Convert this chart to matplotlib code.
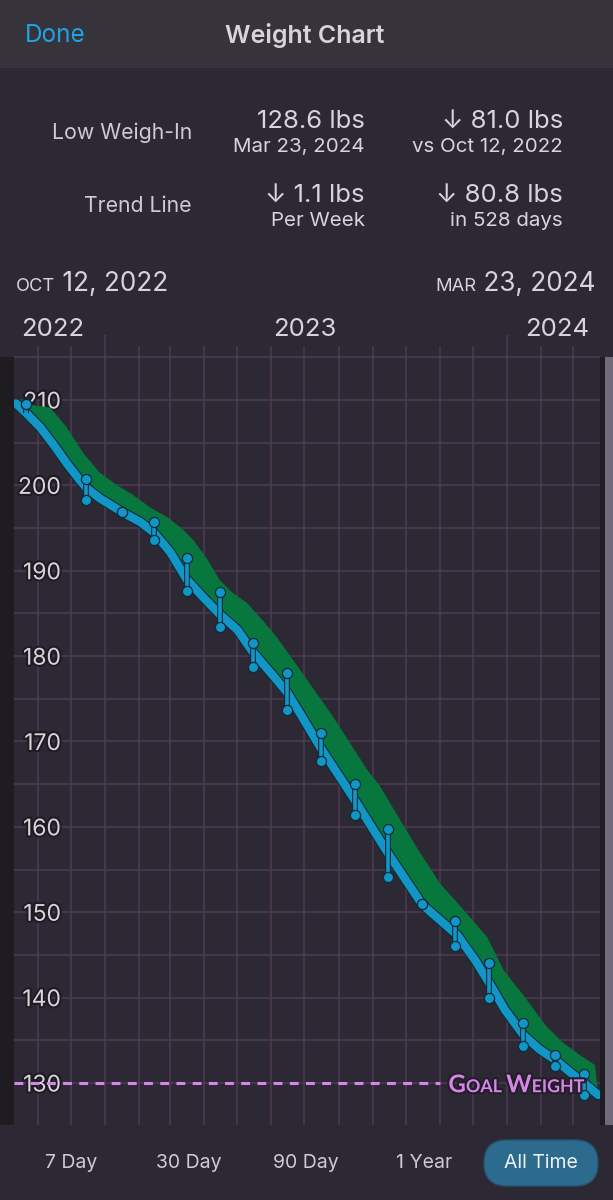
import numpy as np
import matplotlib
matplotlib.use("Agg")
import matplotlib.pyplot as plt
import matplotlib.dates as mdates
import matplotlib.patheffects as pe
from matplotlib.ticker import MultipleLocator, NullFormatter
from matplotlib.offsetbox import TextArea, HPacker, AnnotationBbox
from matplotlib.patches import Rectangle, FancyBboxPatch

plt.rcParams['font.family'] = ['Inter', 'DejaVu Sans']

# ---------------- data ----------------
START = np.datetime64('2022-10-12')

# trend line (days since start, lbs)
trend_days = [0, 9, 22, 35, 46, 58, 64, 76, 96, 113, 125, 140, 155, 170, 185, 201,
              215, 231, 246, 258, 276, 306, 338, 369, 385, 401, 417, 430, 444, 461,
              476, 490, 503, 516, 529]
trend_lbs = [209.6, 208.5, 206.8, 204.6, 202.6, 200.6, 199.7, 198.5, 196.9, 195.7,
             194.5, 192.2, 189.0, 186.9, 184.9, 183.1, 180.5, 178.1, 175.8, 173.3,
             169.4, 163.5, 156.9, 150.9, 149.1, 147.3, 144.4, 141.7, 138.6, 135.6,
             133.9, 132.7, 131.3, 130.0, 128.6]

# upper edge of the green band
band_days = [11, 31, 37, 46, 61, 76, 92, 106, 122, 137, 152, 161, 174, 185, 197, 210,
             224, 237, 258, 288, 319, 331, 349, 364, 385, 401, 428, 443, 462, 482,
             497, 512, 526]
band_lbs = [209.5, 209.1, 208.2, 206.8, 203.8, 201.5, 200.0, 198.9, 197.4, 196.3,
            194.8, 193.6, 191.3, 188.9, 187.4, 186.2, 184.2, 182.2, 178.4, 172.9,
            166.7, 164.7, 160.8, 157.6, 153.4, 151.1, 147.1, 143.2, 140.1, 136.6,
            134.7, 133.3, 132.1]

# weigh-ins (high / low per period)
weigh_days = [9, 64, 96, 125, 155, 185, 215, 246, 277, 308, 338, 369, 399, 430, 461, 490, 516]
weigh_hi = [209.5, 200.8, 196.9, 195.7, 191.5, 187.5, 181.5, 178.0, 171.0, 165.0,
            159.8, 151.0, 149.0, 144.0, 137.0, 133.3, 131.0]
weigh_lo = [209.5, 198.3, 196.9, 193.6, 187.6, 183.4, 178.7, 173.7, 167.7, 161.4,
            154.1, 151.0, 146.0, 139.9, 134.3, 132.0, 128.6]

goal_weight = 130
y_ticks = [130, 140, 150, 160, 170, 180, 190, 200, 210]
years = ['2022', '2023', '2024']
year_label_dates = ['2022-11-14', '2023-07-01', '2024-02-16']
buttons = ['7 Day', '30 Day', '90 Day', '1 Year', 'All Time']

# ---------------- style ----------------
BG = '#2c2834'
HEADER = '#36333a'
GRID = '#4c3a50'
TXT = '#d8d4db'
LBL = '#cfcbd3'
BLUE = '#1196c6'
DARK = '#0d2c3b'
GREEN = '#07773d'
GOAL = '#d884ea'
W, H = 613, 1200


def fx(px):
    return px / W


def fy(py):
    return 1 - py / H


fig = plt.figure(figsize=(W / 100, H / 100), dpi=100, facecolor=BG)

# header bar
fig.add_artist(Rectangle((0, fy(68)), 1, 68 / H, transform=fig.transFigure,
                         facecolor=HEADER, edgecolor='none', zorder=0))
fig.text(fx(25), fy(36), 'Done', color='#20a3e6', fontsize=17.5, va='center', ha='left')
fig.text(fx(305), fy(36), 'Weight Chart', color=TXT, fontsize=18, va='center',
         ha='center', weight='semibold')

# stats
fig.text(fx(192), fy(133), 'Low Weigh-In', color=LBL, fontsize=15.3, ha='right', va='center')
fig.text(fx(192), fy(206), 'Trend Line', color=LBL, fontsize=15.3, ha='right', va='center')
fig.text(fx(365), fy(121), '128.6 lbs', color=TXT, fontsize=18.5, ha='right', va='center')
fig.text(fx(365), fy(147), 'Mar 23, 2024', color=TXT, fontsize=14.8, ha='right', va='center')
fig.text(fx(563), fy(121), '↓ 81.0 lbs', color=TXT, fontsize=18.5, ha='right', va='center')
fig.text(fx(563), fy(147), 'vs Oct 12, 2022', color=TXT, fontsize=14.8, ha='right', va='center')
fig.text(fx(365), fy(195), '↓ 1.1 lbs', color=TXT, fontsize=18.5, ha='right', va='center')
fig.text(fx(365), fy(221), 'Per Week', color=TXT, fontsize=14.8, ha='right', va='center')
fig.text(fx(563), fy(195), '↓ 80.8 lbs', color=TXT, fontsize=18.5, ha='right', va='center')
fig.text(fx(563), fy(221), 'in 528 days', color=TXT, fontsize=14.8, ha='right', va='center')


def small_caps(parts, props_big, props_small):
    areas = []
    for txt, big in parts:
        areas.append(TextArea(txt, textprops=props_big if big else props_small))
    return HPacker(children=areas, align='baseline', pad=0, sep=0)


big = dict(color=TXT, fontsize=18.8)
sml = dict(color=TXT, fontsize=13.2)
box = small_caps([('OCT', False), (' 12, 2022', True)], big, sml)
fig.add_artist(AnnotationBbox(box, (fx(16), fy(284)), xycoords='figure fraction',
                              box_alignment=(0, 0.5), frameon=False))
box = small_caps([('MAR', False), (' 23, 2024', True)], big, sml)
fig.add_artist(AnnotationBbox(box, (fx(596), fy(284)), xycoords='figure fraction',
                              box_alignment=(1, 0.5), frameon=False))

# ---------------- chart ----------------
ax = fig.add_axes([fx(14), 75 / H, 586 / W, (1125 - 355) / H])
ax.set_facecolor(BG)
for s in ax.spines.values():
    s.set_visible(False)

t_dates = START + np.array(trend_days).astype('timedelta64[D]')
b_dates = START + np.array(band_days).astype('timedelta64[D]')
w_dates = START + np.array(weigh_days).astype('timedelta64[D]')

# trend line
ax.plot(t_dates, trend_lbs, color=BLUE, lw=6.0, solid_capstyle='round',
        solid_joinstyle='round', zorder=4,
        path_effects=[pe.Stroke(linewidth=7.6, foreground=DARK), pe.Normal()])

# green band between trend and upper edge
tn = mdates.date2num(t_dates)
bn = mdates.date2num(b_dates)
poly_x = np.concatenate([bn, tn[::-1]])
poly_y = np.concatenate([np.array(band_lbs), np.array(trend_lbs)[::-1]])
ax.fill(poly_x, poly_y, color=GREEN, lw=0, zorder=3)

# weigh-in stems and dots
trend_at = np.interp(weigh_days, trend_days, trend_lbs)
hi = np.maximum(weigh_hi, trend_at)
lo = np.minimum(weigh_lo, trend_at)
ax.vlines(w_dates, lo, hi, colors=BLUE, lw=2.6, zorder=5,
          path_effects=[pe.Stroke(linewidth=4.2, foreground=DARK), pe.Normal()])
ax.plot(w_dates, weigh_hi, 'o', ms=7.3, mfc=BLUE, mec=DARK, mew=0.9, zorder=6)
ax.plot(w_dates, weigh_lo, 'o', ms=7.3, mfc=BLUE, mec=DARK, mew=0.9, zorder=6)

# goal weight line
ax.axhline(goal_weight, xmin=0, xmax=(440 - 14) / 586, color=GOAL, lw=2.2,
           dashes=(2.9, 2.4), zorder=2.6)
gbig = dict(color=GOAL, fontsize=17.5, weight='bold', family=['Lato', 'DejaVu Sans'],
            path_effects=[pe.Stroke(linewidth=3, foreground='#221e27'), pe.Normal()])
gsml = dict(gbig, fontsize=12.8)
gbox = small_caps([('G', True), ('OAL ', False), ('W', True), ('EIGHT', False)], gbig, gsml)
ab = AnnotationBbox(gbox, ((584 - 14) / 586, goal_weight - 0.2),
                    xycoords=('axes fraction', 'data'), box_alignment=(1, 0.5),
                    frameon=False, zorder=8)
ax.add_artist(ab)

# axes scales
ax.set_xlim(START - np.timedelta64(44, 'h'), START + np.timedelta64(530 * 24 + 12, 'h'))
ax.set_ylim(125.08, 215.27)
ax.yaxis.set_minor_locator(MultipleLocator(5))
ax.set_yticks(y_ticks)
ax.yaxis.set_minor_formatter(NullFormatter())
ax.xaxis.set_major_locator(mdates.YearLocator())
ax.xaxis.set_minor_locator(mdates.MonthLocator())
ax.xaxis.set_major_formatter(NullFormatter())
ax.xaxis.set_minor_formatter(NullFormatter())
ax.xaxis.tick_top()
ax.tick_params(axis='x', which='major', direction='out', length=14.4, width=1.1,
               color=GRID, labeltop=False, labelbottom=False)
ax.tick_params(axis='x', which='minor', direction='out', length=6.5, width=1.1,
               color=GRID, labeltop=False, labelbottom=False)
ax.tick_params(axis='y', which='both', length=0)
ax.tick_params(axis='y', which='major', pad=-33.8, labelsize=16.5, labelcolor=TXT)
ax.set_axisbelow(True)
ax.grid(True, which='both', color=GRID, lw=1.2)
for t in ax.yaxis.get_major_ticks():
    t.label1.set_path_effects([pe.Stroke(linewidth=3, foreground='#1e1b22'), pe.Normal()])
    t.label1.set_horizontalalignment('right')

# year labels above chart
ytrans = matplotlib.transforms.blended_transform_factory(ax.transData, fig.transFigure)
for yr, d in zip(years, year_label_dates):
    ax.text(np.datetime64(d), fy(330), yr, transform=ytrans, color=TXT, fontsize=18.5,
            ha='center', va='center', clip_on=False)

# side strips and scrollbar (pixel coordinates, origin bottom-left)
fig.add_artist(Rectangle((0, H - 1125), 14, 1125 - 357, transform=None,
                         facecolor='#1e1b21', edgecolor='none', zorder=1))
fig.add_artist(Rectangle((600, H - 1125), 5, 1125 - 357, transform=None,
                         facecolor='#1f1c23', edgecolor='none', zorder=1))
fig.add_artist(Rectangle((605, H - 1125), 8, 1125 - 357, transform=None,
                         facecolor='#6f6b7b', edgecolor='none', zorder=1))

# bottom buttons
btn_x = [71, 189, 306, 424, 541]
fig.add_artist(FancyBboxPatch((484, H - 1186), 114, 46,
                              boxstyle='round,pad=0,rounding_size=23', transform=None,
                              facecolor='#2c6a8e', edgecolor='#24556f', lw=1, zorder=1))
for lbl, bx in zip(buttons, btn_x):
    active = lbl == 'All Time'
    fig.text(fx(bx), fy(1163), lbl, color='#eef3f7' if active else LBL,
             fontsize=14, ha='center', va='center', zorder=3)

fig.savefig('out.png', dpi=100, facecolor=BG)
